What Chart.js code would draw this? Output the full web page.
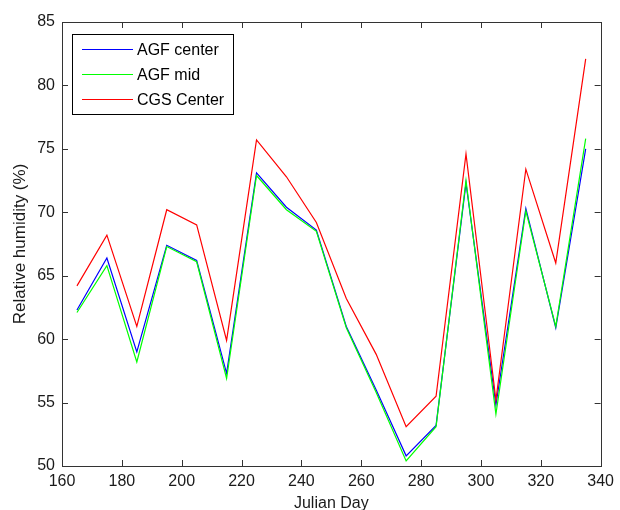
<!DOCTYPE html>
<html>
<head>
<meta charset="utf-8">
<script src="https://cdn.jsdelivr.net/npm/chart.js@4.4.0/dist/chart.umd.min.js"></script>
<style>
  body { margin: 0; background: #fff; }
  #rhChart { display: block; }
</style>
</head>
<body>
<canvas id="rhChart" width="620" height="510"></canvas>
<script>
var days = [165, 175, 185, 195, 205, 215, 225, 235, 245, 255, 265, 275, 285, 295, 305, 315, 325, 335];
var agfCenter = [62.3, 66.4, 59.0, 67.4, 66.2, 57.3, 73.1, 70.4, 68.6, 61.0, 56.0, 50.8, 53.2, 72.3, 54.8, 70.3, 60.9, 75.0];
var agfMid = [62.1, 65.8, 58.2, 67.3, 66.1, 56.9, 72.9, 70.2, 68.5, 60.9, 55.8, 50.4, 53.1, 72.5, 54.1, 70.1, 61.0, 75.8];
var cgsCenter = [64.2, 68.2, 61.0, 70.2, 69.0, 59.9, 75.7, 72.8, 69.2, 63.2, 58.8, 53.1, 55.5, 74.6, 55.2, 73.4, 66.0, 82.1];
var seriesNames = ["AGF center", "AGF mid", "CGS Center"];
var seriesColors = ["#0000ff", "#00ff00", "#ff0000"];

var fontFamily = "'Liberation Sans', Arial, sans-serif";
var axisColor = "#333333";

function toPoints(values) {
  return values.map(function (v, i) { return { x: days[i], y: v }; });
}

// MATLAB style box, inward ticks and legend
var matlabAxes = {
  id: "matlabAxes",
  afterDraw: function (chart) {
    var ctx = chart.ctx;
    var area = chart.chartArea;
    var xs = chart.scales.x;
    var ys = chart.scales.y;
    var tickLen = 6;
    ctx.save();
    ctx.strokeStyle = axisColor;
    ctx.lineWidth = 1;
    ctx.strokeRect(Math.round(area.left) + 0.5, Math.round(area.top) + 0.5,
      Math.round(area.right - area.left), Math.round(area.bottom - area.top));
    ctx.beginPath();
    xs.ticks.forEach(function (t) {
      var px = Math.round(xs.getPixelForValue(t.value)) + 0.5;
      ctx.moveTo(px, area.bottom);
      ctx.lineTo(px, area.bottom - tickLen);
      ctx.moveTo(px, area.top);
      ctx.lineTo(px, area.top + tickLen);
    });
    ys.ticks.forEach(function (t) {
      var py = Math.round(ys.getPixelForValue(t.value)) + 0.5;
      ctx.moveTo(area.left, py);
      ctx.lineTo(area.left + tickLen, py);
      ctx.moveTo(area.right, py);
      ctx.lineTo(area.right - tickLen, py);
    });
    ctx.stroke();

    // legend box
    var lx = 72.5, ly = 34.5, lw = 161, lh = 80;
    ctx.fillStyle = "#ffffff";
    ctx.fillRect(lx, ly, lw, lh);
    ctx.strokeStyle = "#000000";
    ctx.strokeRect(lx, ly, lw, lh);
    ctx.font = "16px " + fontFamily;
    ctx.textBaseline = "middle";
    ctx.fillStyle = "#000000";
    var rows = [49.5, 74.5, 99.5];
    chart.data.datasets.forEach(function (ds, i) {
      ctx.strokeStyle = ds.borderColor;
      ctx.beginPath();
      ctx.moveTo(82, rows[i]);
      ctx.lineTo(133, rows[i]);
      ctx.stroke();
      ctx.fillText(ds.label, 137, rows[i] + 1);
    });
    ctx.restore();
  }
};

var datasets = [agfCenter, agfMid, cgsCenter].map(function (vals, i) {
  return {
    label: seriesNames[i],
    data: toPoints(vals),
    borderColor: seriesColors[i],
    backgroundColor: seriesColors[i],
    borderWidth: 1.2,
    pointRadius: 0,
    tension: 0,
    fill: false,
    order: 3 - i
  };
});

var config = {
  type: "line",
  data: { datasets: datasets },
  options: {
    responsive: false,
    animation: false,
    layout: { padding: { left: 0, top: 22, right: 12, bottom: 0 } },
    plugins: {
      legend: { display: false },
      tooltip: { enabled: false }
    },
    scales: {
      x: {
        type: "linear",
        min: 160,
        max: 340,
        grid: { drawOnChartArea: false, drawTicks: false, color: axisColor },
        border: { color: axisColor },
        ticks: {
          stepSize: 20,
          padding: 6,
          color: "#1a1a1a",
          font: { family: fontFamily, size: 16 }
        },
        title: {
          display: true,
          text: "Julian Day",
          color: "#1a1a1a",
          padding: { top: 0, bottom: -2 },
          font: { family: fontFamily, size: 16, lineHeight: 1 }
        },
        afterFit: function (scale) { scale.height = 44; }
      },
      y: {
        min: 50,
        max: 85,
        grid: { drawOnChartArea: false, drawTicks: false, color: axisColor },
        border: { color: axisColor },
        ticks: {
          stepSize: 5,
          padding: 7,
          color: "#1a1a1a",
          font: { family: fontFamily, size: 16 }
        },
        title: {
          display: true,
          text: "Relative humidity (%)",
          color: "#1a1a1a",
          padding: { top: 10, bottom: 0 },
          font: { family: fontFamily, size: 17, lineHeight: 1.2 }
        },
        afterFit: function (scale) { scale.width = 62; }
      }
    }
  },
  plugins: [matlabAxes]
};

var rhChart = new Chart(document.getElementById("rhChart"), config);
</script>
</body>
</html>
